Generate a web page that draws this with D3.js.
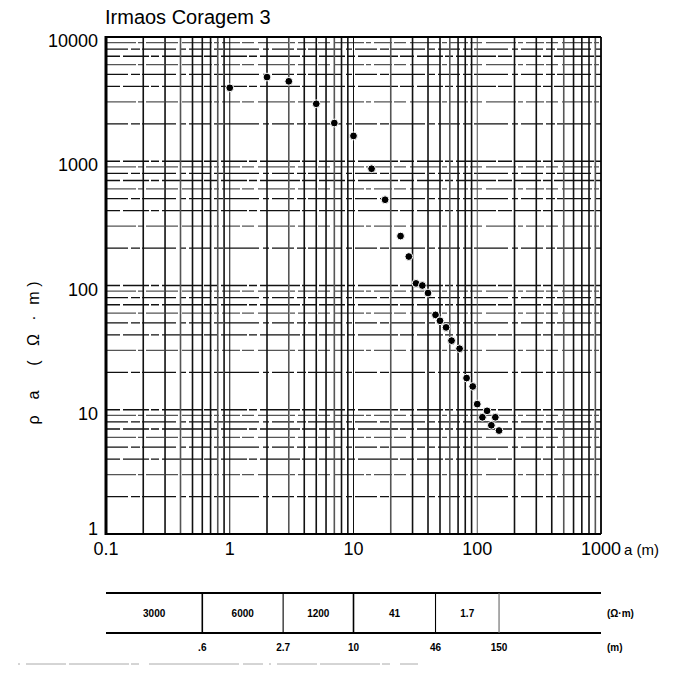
<!DOCTYPE html>
<html>
<head>
<meta charset="utf-8">
<script src="https://cdn.jsdelivr.net/npm/d3@7"></script>
<style>
  html, body { margin: 0; padding: 0; background: #fff; }
  svg { display: block; font-family: "Liberation Sans", Arial, sans-serif; }
</style>
</head>
<body>
<svg id="chart" width="680" height="673"></svg>
<script>
// ---- data ----
const title = "Irmaos Coragem 3";
const spacingA = [1, 2, 3, 5, 7, 10, 14, 18, 24, 28, 32, 36, 40, 46, 50, 56, 62, 72, 82, 92, 100, 110, 120, 130, 140, 150];
const rhoA = [3900, 4760, 4400, 2900, 2030, 1600, 870, 490, 250, 171, 104, 100, 87, 58, 52, 46, 36, 31, 18, 15.4, 11.1, 8.7, 9.8, 7.5, 8.7, 6.8];
const xTicks = [0.1, 1, 10, 100, 1000];
const xTickLabels = ["0.1", "1", "10", "100", "1000"];
const yTicks = [1, 10, 100, 1000, 10000];
const yTickLabels = ["1", "10", "100", "1000", "10000"];
const layerRho = ["3000", "6000", "1200", "41", "1.7", ""];
const layerDepth = [0.6, 2.7, 10, 46, 150];
const layerDepthLabels = [".6", "2.7", "10", "46", "150"];

// ---- layout ----
const svg = d3.select("#chart");
const L = 106, R = 601, T = 37, B = 534;
const x = d3.scaleLog().domain([0.1, 1000]).range([L, R]);
const y = d3.scaleLog().domain([1, 10000]).range([B, T]);

// grid values: 1..9 per decade
const gridX = [], gridY = [];
for (let e = -1; e < 3; e++) for (let m = 1; m < 10; m++) gridX.push(m * Math.pow(10, e));
for (let e = 0; e < 4; e++) for (let m = 1; m < 10; m++) gridY.push(m * Math.pow(10, e));

const g = svg.append("g");

// horizontal grid (broken / dashed look from scanned log paper)
g.selectAll("line.hg").data(gridY.filter(v => v > 1)).join("line")
  .attr("class", "hg")
  .attr("x1", L).attr("x2", R)
  .attr("y1", d => y(d)).attr("y2", d => y(d))
  .attr("stroke", (d, i) => i % 3 === 1 ? "#555" : "#111")
  .attr("stroke-width", 1.3)
  .attr("stroke-dasharray", (d, i) => ["22,3,9,2,34,4,6,3", "30,2,5,3,18,2,12,4", "14,3,26,2,8,3,40,2"][i % 3]);

// vertical grid (solid)
g.selectAll("line.vg").data(gridX.filter(v => v > 0.1 + 1e-9)).join("line")
  .attr("class", "vg")
  .attr("x1", d => x(d)).attr("x2", d => x(d))
  .attr("y1", T).attr("y2", B)
  .attr("stroke", (d, i) => i % 4 === 2 ? "#555" : "#111")
  .attr("stroke-width", (d, i) => (i % 9 === 8) ? 1 : 1.6);

// frame
svg.append("line").attr("x1", L).attr("x2", L).attr("y1", T - 1).attr("y2", B + 1).attr("stroke", "#000").attr("stroke-width", 3);
svg.append("line").attr("x1", L).attr("x2", R).attr("y1", B).attr("y2", B).attr("stroke", "#000").attr("stroke-width", 2.2);
svg.append("line").attr("x1", L).attr("x2", R).attr("y1", T).attr("y2", T).attr("stroke", "#000").attr("stroke-width", 2);
svg.append("line").attr("x1", R).attr("x2", R).attr("y1", T).attr("y2", B).attr("stroke", "#000").attr("stroke-width", 1.8);

// data points
const pts = spacingA.map((a, i) => ({ a, r: rhoA[i] }));
svg.selectAll("circle.pt").data(pts).join("circle")
  .attr("class", "pt")
  .attr("cx", d => x(d.a)).attr("cy", d => y(d.r))
  .attr("r", 3.9).attr("fill", "#000")
  .attr("stroke", "#fff").attr("stroke-width", 1);

// title
svg.append("text").attr("x", 105).attr("y", 24)
  .attr("font-size", 20).attr("fill", "#000").text(title);

// y tick labels
svg.selectAll("text.yt").data(yTicks).join("text")
  .attr("class", "yt")
  .attr("x", 98).attr("y", d => y(d) + (d === 1 ? 1 : 10))
  .attr("text-anchor", "end").attr("font-size", 18).attr("fill", "#000")
  .text((d, i) => yTickLabels[i]);

// x tick labels
svg.selectAll("text.xt").data(xTicks).join("text")
  .attr("class", "xt")
  .attr("x", d => x(d)).attr("y", 555)
  .attr("text-anchor", "middle").attr("font-size", 18).attr("fill", "#000")
  .text((d, i) => xTickLabels[i]);

svg.append("text").attr("x", 624).attr("y", 555)
  .attr("font-size", 15).attr("fill", "#000").text("a (m)");

// y axis label (rotated, spaced glyphs)
const yLabelGlyphs = ["ρ", "a", "(", "Ω", "·", "m", ")"];
const yLabelPos = [420, 395, 363, 340, 318, 298, 284];
const yl = svg.append("text").attr("font-size", 16).attr("fill", "#000")
  .attr("transform", "translate(39,0) rotate(-90)").attr("text-anchor", "middle");
yl.selectAll("tspan").data(yLabelGlyphs).join("tspan")
  .attr("x", (d, i) => -yLabelPos[i]).attr("y", 0)
  .text(d => d);

// ---- layer table ----
const tTop = 593, tBot = 633;
svg.append("line").attr("x1", L).attr("x2", R).attr("y1", tTop).attr("y2", tTop).attr("stroke", "#000").attr("stroke-width", 2);
svg.append("line").attr("x1", L).attr("x2", R).attr("y1", tBot).attr("y2", tBot).attr("stroke", "#000").attr("stroke-width", 2);
svg.selectAll("line.div").data(layerDepth).join("line")
  .attr("class", "div")
  .attr("x1", d => x(d)).attr("x2", d => x(d))
  .attr("y1", tTop).attr("y2", tBot)
  .attr("stroke", (d, i) => i === 4 ? "#666" : "#000")
  .attr("stroke-width", (d, i) => i === 0 || i === 2 ? 1.6 : 1.1);

const bounds = [0.1, ...layerDepth, 1000];
svg.selectAll("text.cell").data(layerRho).join("text")
  .attr("class", "cell")
  .attr("x", (d, i) => (x(bounds[i]) + x(bounds[i + 1])) / 2)
  .attr("y", 617)
  .attr("text-anchor", "middle").attr("font-size", 10).attr("font-weight", "bold").attr("fill", "#000")
  .text(d => d);

svg.selectAll("text.depth").data(layerDepth).join("text")
  .attr("class", "depth")
  .attr("x", d => x(d)).attr("y", 651)
  .attr("text-anchor", "middle").attr("font-size", 10).attr("font-weight", "bold").attr("fill", "#000")
  .text((d, i) => layerDepthLabels[i]);

svg.append("text").attr("x", 607).attr("y", 617).attr("font-size", 10).attr("font-weight", "bold").text("(Ω·m)");
svg.append("text").attr("x", 607).attr("y", 651).attr("font-size", 10).attr("font-weight", "bold").text("(m)");

// faint scan artifact line at bottom
svg.append("line").attr("x1", 18).attr("x2", 418).attr("y1", 664).attr("y2", 664)
  .attr("stroke", "#aaa").attr("stroke-width", 1).attr("stroke-dasharray", "2,6,40,3,60,2,8,10,90,4,20,6");
</script>
</body>
</html>
